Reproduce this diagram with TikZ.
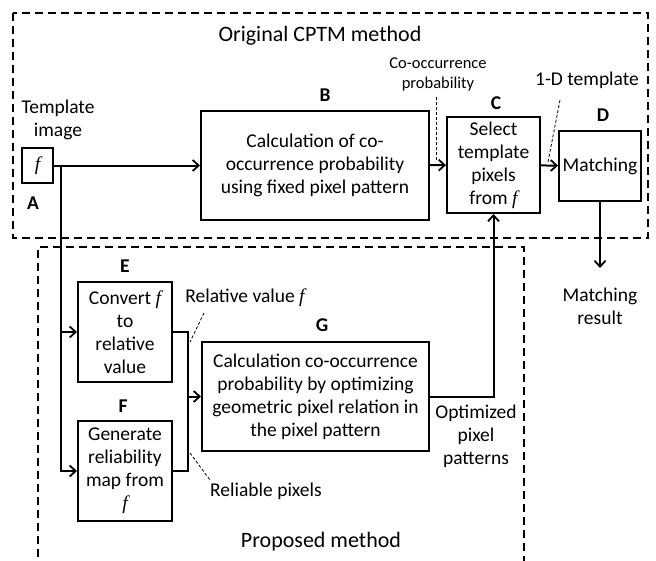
\documentclass[tikz,border=0pt]{standalone}
\usepackage{fontspec}
\setmainfont{Carlito}
\newfontfamily\fserif{Liberation Serif}
\usetikzlibrary{arrows.meta}
\newcommand{\fv}{{\fserif\itshape f}}
\tikzset{
  base/.style={font=\fontsize{19.5}{23}\selectfont},
  blk/.style={base, draw, line width=2pt, align=center, inner sep=2pt},
  tag/.style={font=\fontsize{19.5}{23}\selectfont\bfseries},
  lbl/.style={base, align=center, inner sep=0pt},
  small/.style={font=\fontsize{16.5}{20}\selectfont, align=center, inner sep=0pt},
  title/.style={font=\fontsize{22}{26}\selectfont, inner sep=0pt},
  conn/.style={line width=2pt},
  arr/.style={conn, -{Straight Barb[length=6pt,width=11pt,line width=1.8pt]}},
  frame/.style={line width=2pt, dash pattern=on 8pt off 5pt},
  leader/.style={line width=0.8pt, dash pattern=on 3pt off 2pt}
}
\begin{document}
\begin{tikzpicture}[x=1pt,y=-1pt]
\useasboundingbox (0,0) rectangle (656,560);
\fill[white] (0,0) rectangle (656,560);

% dashed group frames
\draw[frame] (13,13) rectangle (648,238);
\draw[frame] (38,570) -- (38,247) -- (524,247) -- (524,570);
\node[title] (torig) at (320,36) {Original CPTM method};
\node[title] (tprop) at (321,542) {Proposed method};

% blocks
\node[blk, minimum width=31.6pt, minimum height=35pt, inner sep=0pt] (A) at (37.5,165.5) {\fv};
\node[blk, minimum width=228pt, minimum height=109pt] (B) at (315,165.5)
  {Calculation of co-\\occurrence probability\\using fixed pixel pattern};
\node[blk, minimum width=93pt, minimum height=96pt] (C) at (493.5,165)
  {Select\\template\\pixels\\from \fv};
\node[blk, minimum width=82pt, minimum height=70pt, inner sep=0pt] (D) at (600,166) {Matching};
\node[blk, minimum width=94pt, minimum height=100pt] (E) at (125,332)
  {Convert \fv\\to\\relative\\value};
\node[blk, minimum width=94pt, minimum height=100pt] (F) at (125,471)
  {Generate\\reliability\\map from\\\fv};
\node[blk, minimum width=227pt, minimum height=109pt] (G) at (315.5,396.5)
  {Calculation co-occurrence\\probability by optimizing\\geometric pixel relation in\\the pixel pattern};

% block tags
\node[tag] (tA) at (33,203) {A};
\node[tag] (tB) at (325,95) {B};
\node[tag] (tC) at (496,103) {C};
\node[tag] (tD) at (603,115) {D};
\node[tag] (tE) at (125,266) {E};
\node[tag] (tF) at (123,406) {F};
\node[tag] (tG) at (322,325) {G};

% labels
\node[lbl] (ltpl) at (58,120) {Template\\image};
\node[small] (lcop) at (438,74) {Co-occurrence\\probability};
\node[lbl] (l1d) at (587,80) {1-D template};
\node[lbl] (lrel) at (245,298) {Relative value \fv};
\node[lbl] (lrlb) at (266,491) {Reliable pixels};
\node[lbl] (lopt) at (476,436) {Optimized\\pixel\\patterns};
\node[lbl] (lres) at (600,306) {Matching\\result};

% connectors
\coordinate (br) at (61,165.5);
\coordinate (jn) at (188,396.5);
\coordinate (out) at (600,268);
\draw[arr] (A) -- (B);
\draw[arr] (br) |- (E);
\draw[arr] (br) |- (F);
\draw[arr] (B) -- (C);
\draw[arr] (C) -- (D);
\draw[arr] (D) -- (out);
\draw[conn] (E.east) -| (jn);
\draw[conn] (F.east) -| (jn);
\draw[arr] (jn) -- (G);
\draw[arr] (G.east) -| (C.south);

% leader lines
\coordinate (k1a) at (436,97);  \coordinate (k1b) at (436,162);
\coordinate (k2a) at (560,100); \coordinate (k2b) at (548,162);
\coordinate (k3a) at (204,313); \coordinate (k3b) at (190,342);
\coordinate (k4a) at (190,453); \coordinate (k4b) at (210,480);
\draw[leader] (k1a) -- (k1b);
\draw[leader] (k2a) -- (k2b);
\draw[leader] (k3a) -- (k3b);
\draw[leader] (k4a) -- (k4b);
\end{tikzpicture}
\end{document}
